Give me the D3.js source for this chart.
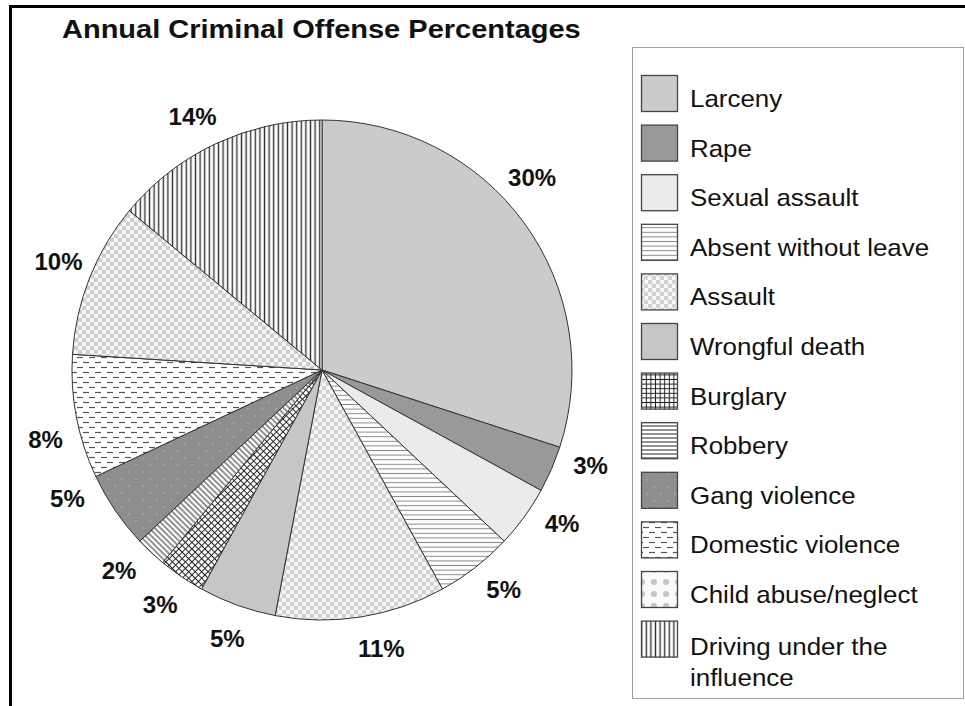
<!DOCTYPE html>
<html><head><meta charset="utf-8">
<script src="https://cdn.jsdelivr.net/npm/d3@7"></script>
<style>body{margin:0;background:#fff}svg{display:block}text{font-family:"Liberation Sans",Arial,sans-serif}</style>
</head><body>
<svg id="chart" width="965" height="706"></svg>
<script>
const categories = ["Larceny","Rape","Sexual assault","Absent without leave","Assault","Wrongful death","Burglary","Robbery","Gang violence","Domestic violence","Child abuse/neglect","Driving under the influence"];
const values = [30,3,4,5,11,5,3,2,5,8,10,14];
const labels = ["30%","3%","4%","5%","11%","5%","3%","2%","5%","8%","10%","14%"];
const title = "Annual Criminal Offense Percentages";

const svg = d3.select("#chart");
const defs = svg.append("defs");

function solid(id, c){ const p=defs.append("pattern").attr("id",id).attr("patternUnits","userSpaceOnUse").attr("width",10).attr("height",10); p.append("rect").attr("width",10).attr("height",10).attr("fill",c); }
function hlines(id, sp, col, w, rot){ const p=defs.append("pattern").attr("id",id).attr("patternUnits","userSpaceOnUse").attr("width",sp).attr("height",sp); if(rot) p.attr("patternTransform","rotate("+rot+")"); p.append("rect").attr("width",sp).attr("height",sp).attr("fill","#fff"); p.append("line").attr("x1",0).attr("x2",sp).attr("y1",sp/2).attr("y2",sp/2).attr("stroke",col).attr("stroke-width",w); }
function vlines(id, sp, col, w){ const p=defs.append("pattern").attr("id",id).attr("patternUnits","userSpaceOnUse").attr("width",sp).attr("height",sp); p.append("rect").attr("width",sp).attr("height",sp).attr("fill","#fff"); p.append("line").attr("y1",0).attr("y2",sp).attr("x1",sp/2).attr("x2",sp/2).attr("stroke",col).attr("stroke-width",w); }
function grid(id, sp, col, w, rot){ const p=defs.append("pattern").attr("id",id).attr("patternUnits","userSpaceOnUse").attr("width",sp).attr("height",sp); if(rot) p.attr("patternTransform","rotate("+rot+")"); p.append("rect").attr("width",sp).attr("height",sp).attr("fill","#fff"); p.append("line").attr("x1",0).attr("x2",sp).attr("y1",sp/2).attr("y2",sp/2).attr("stroke",col).attr("stroke-width",w); p.append("line").attr("y1",0).attr("y2",sp).attr("x1",sp/2).attr("x2",sp/2).attr("stroke",col).attr("stroke-width",w); }
function checker(id, s, col){ const p=defs.append("pattern").attr("id",id).attr("patternUnits","userSpaceOnUse").attr("width",2*s).attr("height",2*s); p.append("rect").attr("width",2*s).attr("height",2*s).attr("fill","#fafafa"); p.append("circle").attr("cx",s/2).attr("cy",s/2).attr("r",s*0.62).attr("fill",col); p.append("circle").attr("cx",1.5*s).attr("cy",1.5*s).attr("r",s*0.62).attr("fill",col); }
function dots(id, sp, r, col){ const p=defs.append("pattern").attr("id",id).attr("patternUnits","userSpaceOnUse").attr("width",sp).attr("height",sp); p.append("rect").attr("width",sp).attr("height",sp).attr("fill","#fafafa"); p.append("circle").attr("cx",sp/2).attr("cy",sp/2).attr("r",r).attr("fill",col); }
function dashes(id){ const p=defs.append("pattern").attr("id",id).attr("patternUnits","userSpaceOnUse").attr("width",12).attr("height",10); p.append("rect").attr("width",12).attr("height",10).attr("fill","#fff"); p.append("line").attr("x1",1).attr("x2",7).attr("y1",2.5).attr("y2",2.5).attr("stroke","#555").attr("stroke-width",1.2); p.append("line").attr("x1",7).attr("x2",13).attr("y1",7.5).attr("y2",7.5).attr("stroke","#555").attr("stroke-width",1.2); p.append("line").attr("x1",-5).attr("x2",1).attr("y1",7.5).attr("y2",7.5).attr("stroke","#555").attr("stroke-width",1.2); }
function speck(id){ const p=defs.append("pattern").attr("id",id).attr("patternUnits","userSpaceOnUse").attr("width",14).attr("height",14); p.append("rect").attr("width",14).attr("height",14).attr("fill","#8e8e8e"); p.append("circle").attr("cx",3).attr("cy",4).attr("r",0.8).attr("fill","#b5b5b5"); p.append("circle").attr("cx",10).attr("cy",11).attr("r",0.8).attr("fill","#b5b5b5"); }

solid("p0","#cbcbcb");
solid("p1","#999999");
solid("p2","#ebebeb");
hlines("p3",4.6,"#8a8a8a",1);
checker("p4",4,"#d2d2d2");
solid("p5","#c6c6c6");
grid("p6",4.6,"#222",1);
grid("p6r",4.6,"#222",1,45);
hlines("p7",4,"#777",1.6);
hlines("p7r",4,"#777",1.6,45);
speck("p8");
dashes("p9");
checker("p10",4,"#cdcdcd");
dots("p10l",12,3,"#c4c4c4");
vlines("p11",4.6,"#333",1.4);

const pieFill = ["p0","p1","p2","p3","p4","p5","p6r","p7r","p8","p9","p10","p11"];
const legFill = ["p0","p1","p2","p3","p4","p5","p6","p7","p8","p9","p10l","p11"];

svg.append("path").attr("d","M10.5,706 L10.5,6.5 L965,6.5").attr("fill","none").attr("stroke","#000").attr("stroke-width",3);

svg.append("text").attr("transform","translate(62,38) scale(1.16,1)").attr("font-size",25).attr("font-weight","bold").attr("fill","#111").text(title);

const cx=322, cy=370, R=250;
const pie = d3.pie().sort(null).value(d=>d)(values);
const arc = d3.arc().innerRadius(0).outerRadius(R);
const g = svg.append("g").attr("transform",`translate(${cx},${cy})`);
g.selectAll("path").data(pie).join("path")
  .attr("d",arc).attr("fill",(d,i)=>`url(#${pieFill[i]})`)
  .attr("stroke","#333").attr("stroke-width",1).attr("stroke-linejoin","round");

// label placement nudges (degrees) to mimic the reference's placement
const nudge = [-6.5,-3.8,-3.4,-1.8,-3,-0.4,0.4,2.2,7.5,-3.2,0.8,-1.8];
const labelR = 285;
g.selectAll("text.lbl").data(pie).join("text").attr("class","lbl")
  .each(function(d,i){
    const a = (d.startAngle+d.endAngle)/2 + nudge[i]*Math.PI/180;
    d3.select(this).attr("x",labelR*Math.sin(a)).attr("y",-labelR*Math.cos(a));
  })
  .attr("text-anchor","middle").attr("dy","0.36em")
  .attr("font-size",24).attr("font-weight","bold").attr("fill","#111")
  .text((d,i)=>labels[i]);

svg.append("rect").attr("x",632.5).attr("y",47.5).attr("width",331).attr("height",651).attr("fill","#fff").attr("stroke","#a0a0a0").attr("stroke-width",1);
const legY = d3.scaleLinear().domain([0,1]).range([75,124.6]);
const lg = svg.append("g");
categories.forEach((c,i)=>{
  const y = legY(i);
  lg.append("rect").attr("x",641.5).attr("y",y+0.5).attr("width",36).attr("height",36).attr("fill",`url(#${legFill[i]})`).attr("stroke","#444").attr("stroke-width",1.3);
  const t = lg.append("text").attr("font-size",24).attr("fill","#111");
  if (c === "Driving under the influence"){
    t.attr("transform",`translate(690,${y+34}) scale(1.08,1)`);
    t.append("tspan").attr("x",0).attr("y",0).text("Driving under the");
    t.append("tspan").attr("x",0).attr("y",31).text("influence");
  } else {
    t.attr("transform",`translate(690,${y+32}) scale(1.08,1)`).text(c);
  }
});
</script>
</body></html>
